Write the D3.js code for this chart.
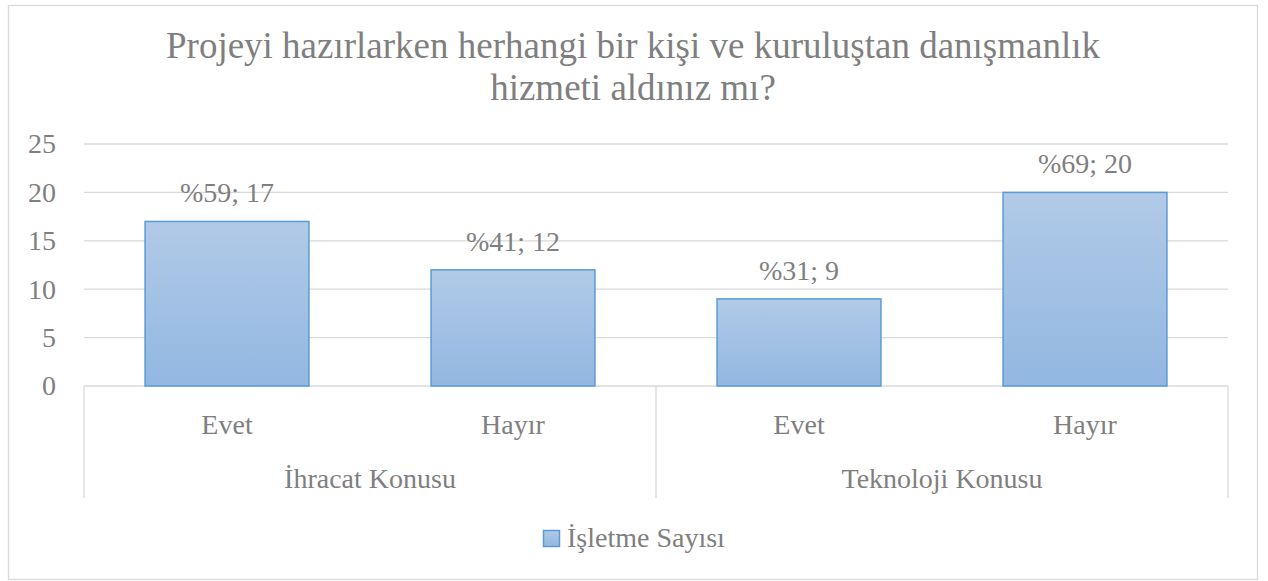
<!DOCTYPE html>
<html lang="tr">
<head>
<meta charset="utf-8">
<title>Danışmanlık hizmeti</title>
<script src="https://d3js.org/d3.v7.min.js"></script>
<style>
    body { margin: 0; background: #fff; }
    svg text { font-family: "Liberation Serif", "Times New Roman", serif; fill: #7f7f7f; }
    .grid line { stroke: #d9d9d9; stroke-width: 1.3; }
    .bar { stroke: #5b9bd5; stroke-width: 1.5; }
</style>
</head>
<body>
<svg id="chart" width="1268" height="581"></svg>
<script>
const titleLines = ["Projeyi hazırlarken herhangi bir kişi ve kuruluştan danışmanlık", "hizmeti aldınız mı?"];
const groups = ["İhracat Konusu", "Teknoloji Konusu"];
const categories = ["Evet", "Hayır", "Evet", "Hayır"];
const groupOf = [0, 0, 1, 1];
const values = [17, 12, 9, 20];
const percents = [59, 41, 31, 69];
const yTicks = [0, 5, 10, 15, 20, 25];
const seriesName = "İşletme Sayısı";

const FONT = '"Liberation Serif", "Times New Roman", serif';
const LBL = 28;

const svg = d3.select('#chart');

// outer frame
svg.append('rect')
    .attr('x', 8.5).attr('y', 5.5)
    .attr('width', 1249).attr('height', 574)
    .attr('fill', '#fff').attr('stroke', '#d9d9d9').attr('stroke-width', 1.3);

// gradient for bars
const grad = svg.append('defs').append('linearGradient')
    .attr('id', 'barGrad').attr('x1', 0).attr('y1', 0).attr('x2', 0).attr('y2', 1);
grad.append('stop').attr('offset', '0%').attr('stop-color', '#b1cae7');
grad.append('stop').attr('offset', '100%').attr('stop-color', '#92b7e1');

// title
svg.append('text')
    .attr('text-anchor', 'middle')
    .attr('font-family', FONT)
    .attr('font-size', 37)
    .selectAll('tspan')
    .data(titleLines)
    .join('tspan')
    .attr('x', 633)
    .attr('y', (d, i) => 58 + i * 42)
    .text(d => d);

const plotLeft = 84, plotRight = 1228, plotTop = 144, plotBottom = 386;

const x = d3.scaleBand()
    .domain(d3.range(values.length))
    .range([plotLeft, plotRight])
    .paddingInner(0.427)
    .paddingOuter(0.2135);

const y = d3.scaleLinear().domain([0, 25]).range([plotBottom, plotTop]);

// grid lines
svg.append('g').attr('class', 'grid')
    .selectAll('line')
    .data(yTicks)
    .join('line')
    .attr('x1', plotLeft).attr('x2', plotRight)
    .attr('y1', d => y(d)).attr('y2', d => y(d));

// y axis labels
const yAxis = d3.axisLeft(y).tickValues(yTicks).tickSize(0).tickPadding(0);
const ga = svg.append('g').attr('transform', 'translate(56,0)').call(yAxis);
ga.attr('font-family', FONT).attr('font-size', LBL);
ga.select('.domain').remove();
ga.selectAll('text').attr('fill', '#7f7f7f');

// bars
svg.selectAll('.bar')
    .data(values)
    .join('rect')
    .attr('class', 'bar')
    .attr('x', (d, i) => x(i))
    .attr('y', d => y(d))
    .attr('width', x.bandwidth())
    .attr('height', d => y(0) - y(d))
    .attr('fill', 'url(#barGrad)');

// data labels
svg.selectAll('.lbl')
    .data(values)
    .join('text')
    .attr('class', 'lbl')
    .attr('text-anchor', 'middle')
    .attr('font-family', FONT)
    .attr('font-size', LBL)
    .attr('x', (d, i) => x(i) + x.bandwidth() / 2)
    .attr('y', d => y(d) - 19)
    .text((d, i) => `%${percents[i]}; ${d}`);

// category axis with group separators
const seps = [plotLeft];
groups.forEach((g, gi) => {
    const idx = groupOf.map((v, i) => v === gi ? i : -1).filter(i => i >= 0);
    seps.push(x(idx[idx.length - 1]) + x.bandwidth() + (x.step() - x.bandwidth()) / 2);
});
seps[seps.length - 1] = plotRight;
svg.append('g').attr('class', 'grid')
    .selectAll('line')
    .data(seps)
    .join('line')
    .attr('x1', d => d).attr('x2', d => d)
    .attr('y1', plotBottom).attr('y2', 498);

svg.selectAll('.cat')
    .data(categories)
    .join('text')
    .attr('class', 'cat')
    .attr('text-anchor', 'middle')
    .attr('font-family', FONT)
    .attr('font-size', LBL)
    .attr('x', (d, i) => x(i) + x.bandwidth() / 2)
    .attr('y', 434)
    .text(d => d);

svg.selectAll('.grp')
    .data(groups)
    .join('text')
    .attr('class', 'grp')
    .attr('text-anchor', 'middle')
    .attr('font-family', FONT)
    .attr('font-size', LBL)
    .attr('x', (d, i) => (seps[i] + seps[i + 1]) / 2)
    .attr('y', 488)
    .text(d => d);

// legend
const lg = svg.append('g');
lg.append('rect')
    .attr('x', 543.5).attr('y', 530.5)
    .attr('width', 16).attr('height', 16)
    .attr('fill', 'url(#barGrad)')
    .attr('stroke', '#5b9bd5').attr('stroke-width', 1.5);
lg.append('text')
    .attr('x', 567)
    .attr('y', 547)
    .attr('font-family', FONT)
    .attr('font-size', LBL)
    .text(seriesName);
</script>
</body>
</html>
